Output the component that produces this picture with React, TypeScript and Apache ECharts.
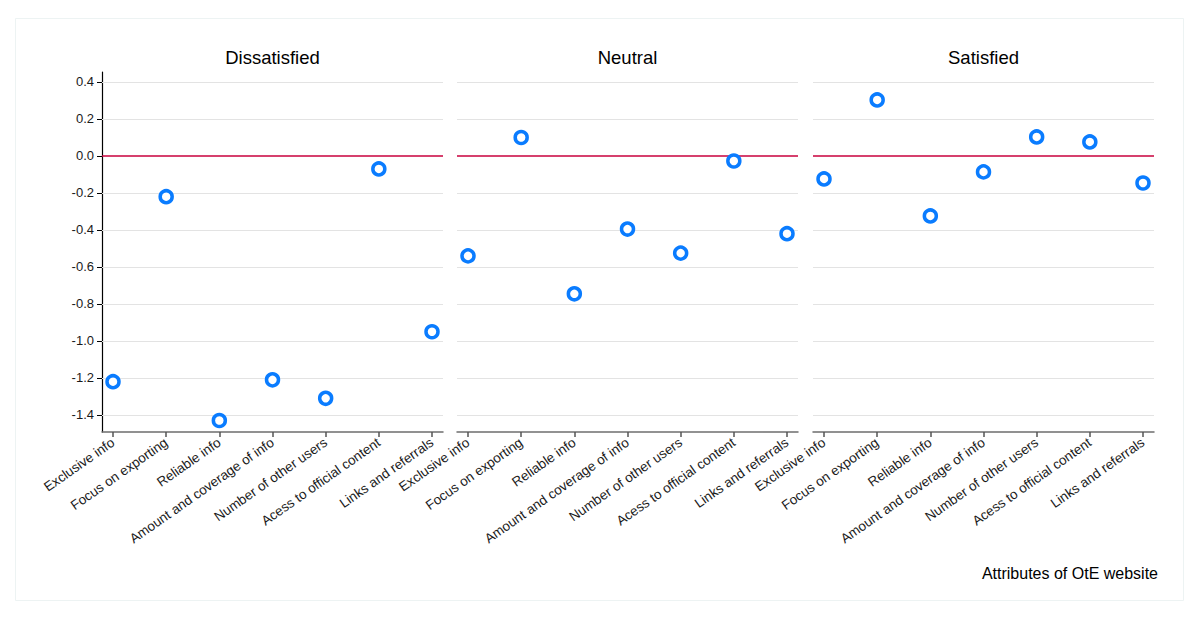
import React, { useEffect, useRef } from "react";
import * as echarts from "echarts";

const categories = [
  "Exclusive info",
  "Focus on exporting",
  "Reliable info",
  "Amount and coverage of info",
  "Number of other users",
  "Acess to official content",
  "Links and referrals",
];
const panels = ["Dissatisfied", "Neutral", "Satisfied"];
const dissatisfied = [-1.22, -0.22, -1.43, -1.21, -1.31, -0.07, -0.95];
const neutral = [-0.54, 0.1, -0.745, -0.395, -0.525, -0.027, -0.42];
const satisfied = [-0.124, 0.303, -0.324, -0.086, 0.103, 0.076, -0.146];
const yTicks = [-1.4, -1.2, -1.0, -0.8, -0.6, -0.4, -0.2, 0.0, 0.2, 0.4];
const xTitle = "Attributes of OtE website";

const FONT = "'Liberation Sans', Arial, Helvetica, sans-serif";

export default function App() {
  const ref = useRef<HTMLDivElement>(null);
  useEffect(() => {
    if (!ref.current) return;
    const chart = echarts.init(ref.current, null, { renderer: "svg" });
    const seriesData = [dissatisfied, neutral, satisfied];
    const lefts = [102, 457, 813];
    const width = 341;
    const xIdx = categories.map((_, i) => i);
    const option: any = {
      animation: false,
      backgroundColor: "#ffffff",
      textStyle: { fontFamily: FONT },
      grid: lefts.map((l) => ({ left: l, width, top: 72, height: 360 })),
      xAxis: lefts.map((_, i) => ({
        type: "value",
        gridIndex: i,
        min: -0.207,
        max: 6.207,
        splitLine: { show: false },
        axisLine: { show: true, onZero: false, lineStyle: { color: "#6e6e6e", width: 1.5 } },
        axisTick: { show: true, customValues: xIdx, length: 5, lineStyle: { color: "#555", width: 1.5 } },
        axisLabel: {
          customValues: xIdx,
          rotate: 35,
          margin: 9,
          fontSize: 13.5,
          color: "#1a1a1a",
          fontFamily: FONT,
          formatter: (v: number) => categories[Math.round(v)] ?? "",
        },
      })),
      yAxis: lefts.map((_, i) => ({
        type: "value",
        gridIndex: i,
        min: -1.492,
        max: 0.454,
        splitLine: { show: false },
        axisLine: { show: i === 0, onZero: false, lineStyle: { color: "#000", width: 1.2 } },
        axisTick: { show: i === 0, customValues: yTicks, length: 5, lineStyle: { color: "#000" } },
        axisLabel: {
          show: i === 0,
          customValues: yTicks,
          fontSize: 13,
          color: "#1a1a1a",
          margin: 8,
          fontFamily: FONT,
          formatter: (v: number) => (Math.abs(v) < 1e-9 ? "0.0" : v.toFixed(1)),
        },
      })),
      series: seriesData.map((d, i) => ({
        type: "scatter",
        xAxisIndex: i,
        yAxisIndex: i,
        data: d.map((v, k) => [k, v]),
        symbol: "circle",
        symbolSize: 12,
        itemStyle: { color: "#ffffff", borderColor: "#0a7cff", borderWidth: 3.5, opacity: 1 },
        z: 5,
        markLine: {
          silent: true,
          symbol: "none",
          label: { show: false },
          animation: false,
          data: [
            ...yTicks
              .filter((t) => Math.abs(t) > 1e-9)
              .map((t) => ({ yAxis: t, lineStyle: { color: "#e3e3e3", width: 1, type: "solid" } })),
            { yAxis: 0, lineStyle: { color: "#c8003c", width: 1.5, type: "solid", opacity: 1 } },
          ],
        },
      })),
      graphic: [
        {
          type: "rect",
          shape: { x: 15.5, y: 18.5, width: 1168, height: 582 },
          style: { fill: "none", stroke: "#edf3f3", lineWidth: 1 },
          silent: true,
        },
        ...panels.map((p, i) => ({
          type: "text",
          x: lefts[i] + width / 2,
          y: 57,
          style: {
            text: p,
            fontSize: 18.5,
            fontFamily: FONT,
            fill: "#000",
            textAlign: "center",
            textVerticalAlign: "middle",
          },
        })),
        {
          type: "text",
          x: 1158,
          y: 573,
          style: {
            text: xTitle,
            fontSize: 16,
            fontFamily: FONT,
            fill: "#000",
            textAlign: "right",
            textVerticalAlign: "middle",
          },
        },
      ],
    };
    chart.setOption(option);
    return () => chart.dispose();
  }, []);
  return (
    <div
      ref={ref}
      style={{ position: "fixed", left: 0, top: 0, width: 1199, height: 623, background: "#fff" }}
    />
  );
}
